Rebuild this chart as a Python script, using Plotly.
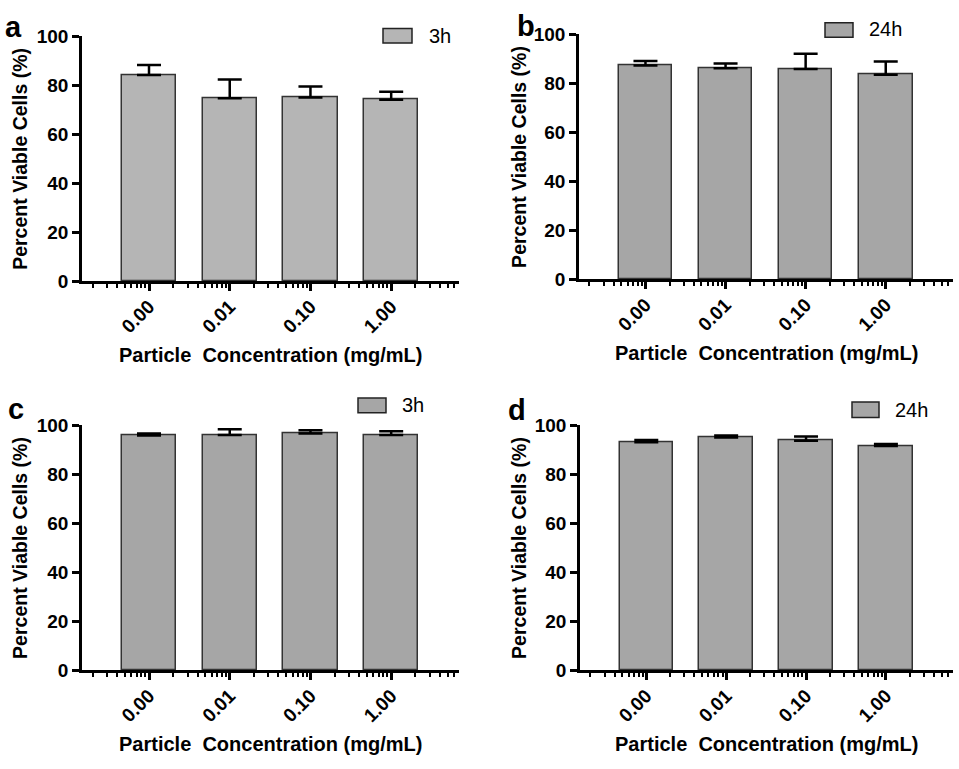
import math
import plotly.graph_objects as go

# ---------------- data ----------------
categories = ["0.00", "0.01", "0.10", "1.00"]

a_mean = [84.2, 74.7, 75.0, 74.1]
a_sd = [4.1, 7.7, 4.5, 3.3]

b_mean = [87.3, 86.2, 85.9, 83.5]
b_sd = [1.8, 1.9, 6.2, 5.4]

c_mean = [95.9, 96.1, 96.7, 96.1]
c_sd = [0.8, 2.3, 1.3, 1.5]

d_mean = [93.1, 95.0, 93.7, 91.6]
d_sd = [0.9, 0.9, 1.7, 0.8]

legend_labels = ["3h", "24h", "3h", "24h"]
panel_letters = ["a", "b", "c", "d"]
y_ticks = [0, 20, 40, 60, 80, 100]
x_title = "Particle\u00a0\u00a0Concentration (mg/mL)"
y_title = "Percent Viable Cells (%)"

# ---------------- styling ----------------
W, H = 959, 769
FONT = "Liberation Sans, Arial, Helvetica, sans-serif"
LIGHT = "#b5b5b5"
DARK = "#a6a6a6"

panels = [
    dict(mean=a_mean, sd=a_sd, fill=LIGHT, px=(82, 459), py=(27, 279),
         letter=(13, 17), ytitle_x=20, leg_box=(383, 19, 412, 34), leg_text=(427, 27)),
    dict(mean=b_mean, sd=b_sd, fill=DARK, px=(579, 953), py=(25, 277),
         letter=(526, 16), ytitle_x=519, leg_box=(825, 13, 853, 28), leg_text=(867, 20)),
    dict(mean=c_mean, sd=c_sd, fill=DARK, px=(82, 459), py=(427, 679),
         letter=(16, 410), ytitle_x=20, leg_box=(358, 399, 386, 414), leg_text=(400, 406)),
    dict(mean=d_mean, sd=d_sd, fill=DARK, px=(580, 953), py=(427, 679),
         letter=(517, 411), ytitle_x=519, leg_box=(852, 403, 879, 419), leg_text=(893, 411)),
]

def fx(p):
    return p / W

def fy(p):
    return 1 - p / H

positions = list(range(len(categories)))
x_range = [-0.83, 3.84]

# log-like minor tick decoration (Prism style)
minor_vals = []
for k in range(-1, 4):
    for m in range(2, 10):
        v = k + math.log10(m)
        if x_range[0] < v < x_range[1]:
            minor_vals.append(v)

fig = go.Figure()
annotations = []
shapes = []

for i, p in enumerate(panels):
    n = "" if i == 0 else str(i + 1)
    xa, ya = "x" + n, "y" + n
    fig.add_trace(go.Bar(
        x=positions, y=p["mean"], width=0.67,
        marker=dict(color=p["fill"], line=dict(color="#333333", width=1.5)),
        error_y=dict(type="data", symmetric=False, array=p["sd"],
                     arrayminus=[0] * len(p["sd"]),
                     color="black", thickness=2.5, width=12),
        xaxis=xa, yaxis=ya, showlegend=False,
    ))
    fig.update_layout(**{
        "xaxis" + n: dict(
            domain=[fx(p["px"][0]), fx(p["px"][1])], anchor=ya,
            range=x_range, showgrid=False, zeroline=False,
            showline=True, linecolor="black", linewidth=2.5,
            tickvals=positions, ticktext=categories, tickangle=-45,
            ticks="outside", ticklen=7, tickwidth=2.5, tickcolor="black",
            ticklabelstandoff=-3,
            tickfont=dict(family=FONT, size=19, color="black", weight="bold"),
            minor=dict(tickvals=minor_vals, ticks="outside", ticklen=4,
                       tickwidth=2, tickcolor="black", showgrid=False),
        ),
        "yaxis" + n: dict(
            domain=[fy(p["py"][1]), fy(p["py"][0])], anchor=xa,
            range=[0, 100], tickvals=y_ticks, showgrid=False, zeroline=False,
            showline=True, linecolor="black", linewidth=2.5,
            ticks="outside", ticklen=7, tickwidth=2.5, tickcolor="black",
            tickfont=dict(family=FONT, size=19, color="black", weight="bold"),
        ),
    })
    # axis titles
    annotations.append(dict(
        x=fx((p["px"][0] + p["px"][1]) / 2), y=fy(p["py"][1] + 76),
        xref="paper", yref="paper", text=x_title, showarrow=False,
        font=dict(family=FONT, size=20, color="black", weight="bold"),
        xanchor="center", yanchor="middle"))
    annotations.append(dict(
        x=fx(p["ytitle_x"]), y=fy((p["py"][0] + p["py"][1]) / 2),
        xref="paper", yref="paper", text=y_title, showarrow=False, textangle=-90,
        font=dict(family=FONT, size=19.5, color="black", weight="bold"),
        xanchor="center", yanchor="middle"))
    # panel letter
    annotations.append(dict(
        x=fx(p["letter"][0]), y=fy(p["letter"][1]),
        xref="paper", yref="paper", text=panel_letters[i], showarrow=False,
        font=dict(family=FONT, size=29, color="black", weight="bold"),
        xanchor="center", yanchor="middle"))
    # legend
    x0, y0, x1, y1 = p["leg_box"]
    shapes.append(dict(type="rect", xref="paper", yref="paper",
                       x0=fx(x0), x1=fx(x1), y0=fy(y1), y1=fy(y0),
                       fillcolor=p["fill"], line=dict(color="#222222", width=1.5)))
    annotations.append(dict(
        x=fx(p["leg_text"][0]), y=fy(p["leg_text"][1]),
        xref="paper", yref="paper", text=legend_labels[i], showarrow=False,
        font=dict(family=FONT, size=20, color="black"),
        xanchor="left", yanchor="middle"))

fig.update_layout(
    width=W, height=H, margin=dict(l=0, r=0, t=0, b=0),
    paper_bgcolor="white", plot_bgcolor="white",
    annotations=annotations, shapes=shapes, bargap=0,
)

fig.write_html("out.html")
